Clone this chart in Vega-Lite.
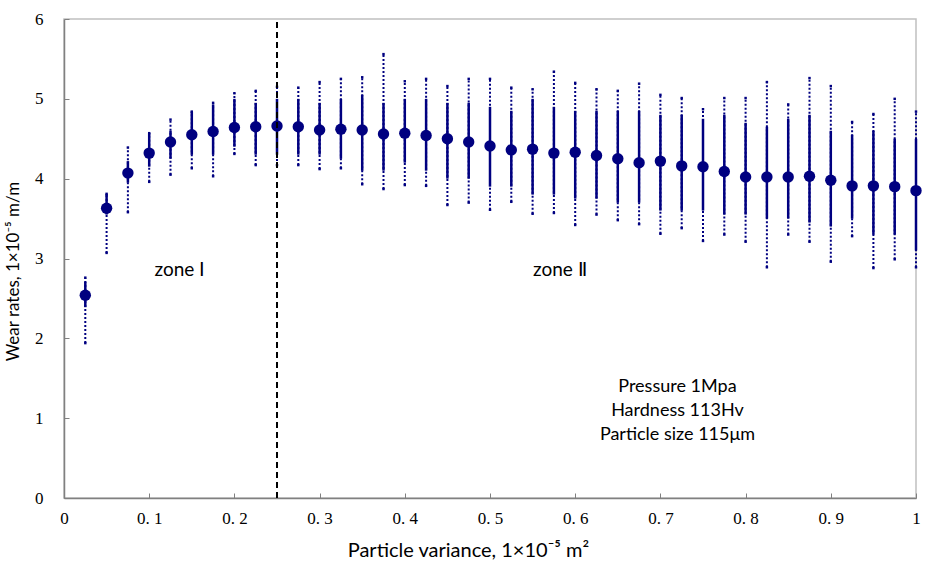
{
  "$schema": "https://vega.github.io/schema/vega-lite/v6.json",
  "width": 852,
  "height": 479,
  "autosize": "none",
  "padding": {"left": 64, "top": 19, "right": 19, "bottom": 71},
  "background": "white",
  "config": {
    "view": {"stroke": "#c0c0c0", "strokeWidth": 1.5},
    "axis": {
      "grid": false,
      "domainColor": "#808080",
      "domainWidth": 1.5,
      "tickColor": "#808080",
      "tickWidth": 1,
      "tickSize": -5,
      "labelFont": "Liberation Serif",
      "labelFontSize": 17,
      "labelColor": "black",
      "titleFont": "Lato",
      "titleFontSize": 17,
      "titleFontWeight": "normal",
      "titleColor": "black"
    }
  },
  "layer": [
    {
      "data": {"name": "wear"},
      "layer": [
        {
          "mark": {"type": "rule", "color": "#000080", "strokeWidth": 2, "strokeDash": [2, 2]},
          "encoding": {
            "x": {
              "field": "x",
              "type": "quantitative",
              "scale": {"domain": [0, 1], "nice": false, "zero": false},
              "axis": {
                "values": [0, 0.1, 0.2, 0.3, 0.4, 0.5, 0.6, 0.7, 0.8, 0.9, 1],
                "labelExpr": "datum.value == 0 ? '0' : datum.value == 1 ? '1' : replace(format(datum.value, '.1f'), '.', '. ')",
                "labelPadding": 17,
                "labelFlush": false,
                "title": "Particle variance, 1×10⁻⁵ m²",
                "titleFontSize": 20,
                "titlePadding": 14,
                "titleX": 404,
                "titleAnchor": "middle"
              }
            },
            "y": {"field": "min", "type": "quantitative", "scale": {"domain": [0, 6], "nice": false},
              "axis": {
                "values": [0, 1, 2, 3, 4, 5, 6],
                "format": "d",
                "labelPadding": 26,
                "labelFlush": false,
                "title": "Wear rates, 1×10⁻⁵ m/m",
                "titleY": 252,
                "titleX": -42,
                "titleAnchor": "middle"
              }
            },
            "y2": {"field": "max"}
          }
        },
        {
          "mark": {"type": "rule", "color": "#000080", "strokeWidth": 2.5},
          "encoding": {
            "x": {"field": "x", "type": "quantitative"},
            "y": {"field": "lo", "type": "quantitative"},
            "y2": {"field": "hi"}
          }
        },
        {
          "mark": {"type": "point", "shape": "square", "filled": true, "color": "#000080", "size": 6, "opacity": 1},
          "encoding": {"x": {"field": "x", "type": "quantitative"}, "y": {"field": "min", "type": "quantitative"}}
        },
        {
          "mark": {"type": "point", "shape": "square", "filled": true, "color": "#000080", "size": 6, "opacity": 1},
          "encoding": {"x": {"field": "x", "type": "quantitative"}, "y": {"field": "max", "type": "quantitative"}}
        },
        {
          "mark": {"type": "circle", "color": "#000080", "size": 130, "opacity": 1},
          "encoding": {"x": {"field": "x", "type": "quantitative"}, "y": {"field": "mean", "type": "quantitative"}}
        }
      ]
    },
    {
      "data": {"values": [{"k": 1}]},
      "mark": {"type": "rule", "color": "black", "strokeWidth": 2, "strokeDash": [6, 4]},
      "encoding": {"x": {"datum": 0.25}, "y": {"datum": 0}, "y2": {"datum": 6}}
    },
    {
      "data": {"values": [{"k": 1}]},
      "mark": {"type": "text", "text": "zone Ⅰ", "font": "Lato", "fontSize": 19, "color": "black"},
      "encoding": {"x": {"datum": 0.136}, "y": {"datum": 2.85}}
    },
    {
      "data": {"values": [{"k": 1}]},
      "mark": {"type": "text", "text": "zone Ⅱ", "font": "Lato", "fontSize": 19, "color": "black"},
      "encoding": {"x": {"datum": 0.582}, "y": {"datum": 2.86}}
    },
    {
      "data": {"values": [{"k": 1}]},
      "mark": {"type": "text", "text": ["Pressure 1Mpa", "Hardness 113Hv", "Particle size 115μm"], "font": "Lato", "fontSize": 18, "lineHeight": 24, "color": "black", "align": "center", "baseline": "middle"},
      "encoding": {"x": {"datum": 0.72}, "y": {"datum": 1.39}}
    }
  ],
  "datasets": {
    "wear": [
      {"x": 0.025, "mean": 2.54, "lo": 2.39, "hi": 2.71, "min": 1.94, "max": 2.76},
      {"x": 0.05, "mean": 3.63, "lo": 3.55, "hi": 3.81, "min": 3.07, "max": 3.81},
      {"x": 0.075, "mean": 4.07, "lo": 3.95, "hi": 4.22, "min": 3.58, "max": 4.39},
      {"x": 0.1, "mean": 4.32, "lo": 4.15, "hi": 4.57, "min": 3.96, "max": 4.57},
      {"x": 0.125, "mean": 4.46, "lo": 4.25, "hi": 4.6, "min": 4.05, "max": 4.74},
      {"x": 0.15, "mean": 4.55, "lo": 4.3, "hi": 4.84, "min": 4.13, "max": 4.84},
      {"x": 0.175, "mean": 4.59, "lo": 4.3, "hi": 4.93, "min": 4.03, "max": 4.95},
      {"x": 0.2, "mean": 4.64, "lo": 4.4, "hi": 5.0, "min": 4.31, "max": 5.07},
      {"x": 0.225, "mean": 4.65, "lo": 4.3, "hi": 4.95, "min": 4.17, "max": 5.1},
      {"x": 0.25, "mean": 4.66, "lo": 4.3, "hi": 5.0, "min": 4.17, "max": 5.15},
      {"x": 0.275, "mean": 4.65, "lo": 4.3, "hi": 5.0, "min": 4.17, "max": 5.14},
      {"x": 0.3, "mean": 4.61, "lo": 4.3, "hi": 4.95, "min": 4.12, "max": 5.21},
      {"x": 0.325, "mean": 4.62, "lo": 4.25, "hi": 5.0, "min": 4.13, "max": 5.25},
      {"x": 0.35, "mean": 4.61, "lo": 4.1, "hi": 5.05, "min": 3.93, "max": 5.27},
      {"x": 0.375, "mean": 4.56, "lo": 4.1, "hi": 4.95, "min": 3.87, "max": 5.56},
      {"x": 0.4, "mean": 4.57, "lo": 4.2, "hi": 5.0, "min": 3.92, "max": 5.22},
      {"x": 0.425, "mean": 4.54, "lo": 4.1, "hi": 5.0, "min": 3.91, "max": 5.25},
      {"x": 0.45, "mean": 4.5, "lo": 4.0, "hi": 4.95, "min": 3.67, "max": 5.16},
      {"x": 0.475, "mean": 4.46, "lo": 4.0, "hi": 4.95, "min": 3.7, "max": 5.25},
      {"x": 0.5, "mean": 4.41, "lo": 3.9, "hi": 4.9, "min": 3.61, "max": 5.25},
      {"x": 0.525, "mean": 4.36, "lo": 3.9, "hi": 4.85, "min": 3.71, "max": 5.14},
      {"x": 0.55, "mean": 4.37, "lo": 3.8, "hi": 5.0, "min": 3.56, "max": 5.12},
      {"x": 0.575, "mean": 4.32, "lo": 3.8, "hi": 4.9, "min": 3.57, "max": 5.34},
      {"x": 0.6, "mean": 4.33, "lo": 3.75, "hi": 4.85, "min": 3.42, "max": 5.2},
      {"x": 0.625, "mean": 4.29, "lo": 3.75, "hi": 4.85, "min": 3.55, "max": 5.12},
      {"x": 0.65, "mean": 4.25, "lo": 3.7, "hi": 4.85, "min": 3.48, "max": 5.1},
      {"x": 0.675, "mean": 4.2, "lo": 3.7, "hi": 4.85, "min": 3.43, "max": 5.19},
      {"x": 0.7, "mean": 4.22, "lo": 3.6, "hi": 4.8, "min": 3.31, "max": 5.05},
      {"x": 0.725, "mean": 4.16, "lo": 3.6, "hi": 4.8, "min": 3.38, "max": 5.01},
      {"x": 0.75, "mean": 4.15, "lo": 3.6, "hi": 4.75, "min": 3.22, "max": 4.87},
      {"x": 0.775, "mean": 4.09, "lo": 3.55, "hi": 4.8, "min": 3.3, "max": 5.01},
      {"x": 0.8, "mean": 4.02, "lo": 3.55, "hi": 4.7, "min": 3.21, "max": 5.01},
      {"x": 0.825, "mean": 4.02, "lo": 3.5, "hi": 4.65, "min": 2.89, "max": 5.21},
      {"x": 0.85, "mean": 4.02, "lo": 3.5, "hi": 4.75, "min": 3.3, "max": 4.93},
      {"x": 0.875, "mean": 4.03, "lo": 3.45, "hi": 4.8, "min": 3.21, "max": 5.26},
      {"x": 0.9, "mean": 3.98, "lo": 3.4, "hi": 4.6, "min": 2.96, "max": 5.16},
      {"x": 0.925, "mean": 3.91, "lo": 3.5, "hi": 4.55, "min": 3.28, "max": 4.71},
      {"x": 0.95, "mean": 3.91, "lo": 3.3, "hi": 4.6, "min": 2.88, "max": 4.81},
      {"x": 0.975, "mean": 3.9, "lo": 3.3, "hi": 4.5, "min": 2.99, "max": 5.0},
      {"x": 1.0, "mean": 3.85, "lo": 3.1, "hi": 4.5, "min": 2.89, "max": 4.84}
    ]
  }
}
